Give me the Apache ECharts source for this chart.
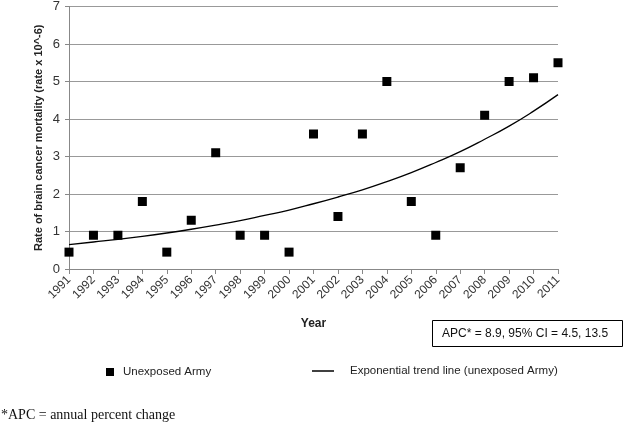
<!DOCTYPE html>
<html><head><meta charset="utf-8">
<script src="https://cdn.jsdelivr.net/npm/echarts@6/dist/echarts.min.js"></script>
<style>html,body{margin:0;padding:0;background:#fff}#c{width:625px;height:425px}</style>
</head><body><div id="c"></div>
<script>
var years = ['1991','1992','1993','1994','1995','1996','1997','1998','1999','2000','2001','2002','2003','2004','2005','2006','2007','2008','2009','2010','2011'];
var rates = [0.45,0.9,0.9,1.8,0.45,1.3,3.1,0.9,0.9,0.45,3.6,1.4,3.6,5.0,1.8,0.9,2.7,4.1,5.0,5.1,5.5];
var trend = [0.65,0.72,0.79,0.87,0.96,1.06,1.17,1.29,1.43,1.57,1.74,1.92,2.11,2.33,2.57,2.84,3.13,3.46,3.81,4.21,4.65];
var yTicks = [0,1,2,3,4,5,6,7];
var FONT = 'Liberation Sans';
var chart = echarts.init(document.getElementById('c'));
chart.setOption({
  animation:false,
  backgroundColor:'#fff',
  textStyle:{fontFamily:FONT},
  grid:{left:69,right:67,top:5,bottom:156},
  xAxis:{type:'category',data:years,boundaryGap:false,
    name:'Year',nameLocation:'middle',nameGap:49,nameMoveOverlap:false,
    nameTextStyle:{fontWeight:'bold',fontSize:12,color:'#222',fontFamily:FONT},
    axisLine:{lineStyle:{color:'#888',width:1}},
    axisTick:{show:true,length:5,lineStyle:{color:'#888'}},
    axisLabel:{rotate:45,fontSize:12,color:'#333',margin:9,interval:0}},
  yAxis:{type:'value',min:yTicks[0],max:yTicks[yTicks.length-1],interval:1,
    name:'Rate of brain cancer mortality (rate x 10^-6)',nameLocation:'middle',nameGap:25,nameMoveOverlap:false,
    nameTextStyle:{fontWeight:'bold',fontSize:11,color:'#222',fontFamily:FONT},
    axisLine:{show:true,lineStyle:{color:'#888',width:1}},
    axisTick:{show:true,length:4,lineStyle:{color:'#888'}},
    axisLabel:{fontSize:13,color:'#333',margin:9},
    splitLine:{lineStyle:{color:'#999',width:1}}},
  legend:[
    {left:101,top:361,itemWidth:8,itemHeight:8,data:[{name:'Unexposed Army',icon:'rect'}],
      itemStyle:{color:'#000',opacity:1},
      textStyle:{fontSize:11.5,color:'#222',padding:[0,0,0,4]}},
    {left:307,top:360,itemWidth:22,itemHeight:1.5,data:[{name:'Exponential trend line (unexposed Army)',icon:'rect'}],
      itemStyle:{color:'#000'},lineStyle:{width:0},
      textStyle:{fontSize:11.5,color:'#222',padding:[0,0,0,11]}}
  ],
  series:[
    {name:'Unexposed Army',type:'scatter',data:rates,symbol:'rect',symbolSize:9,
      itemStyle:{color:'#000',opacity:1}},
    {name:'Exponential trend line (unexposed Army)',type:'line',data:trend,smooth:true,symbol:'none',
      lineStyle:{color:'#000',width:1.3},itemStyle:{color:'#000'}}
  ],
  graphic:[
    {type:'rect',shape:{x:432.5,y:320.5,width:190,height:26},style:{fill:'#fff',stroke:'#000',lineWidth:1}},
    {type:'text',x:442,y:334,style:{text:'APC* = 8.9, 95% CI = 4.5, 13.5',fontSize:12,fontFamily:FONT,fill:'#111',textVerticalAlign:'middle'}},
    {type:'text',x:1,y:415,style:{text:'*APC = annual percent change',fontSize:14,fontFamily:'Liberation Serif',fill:'#111',textVerticalAlign:'middle'}}
  ]
});
</script></body></html>
